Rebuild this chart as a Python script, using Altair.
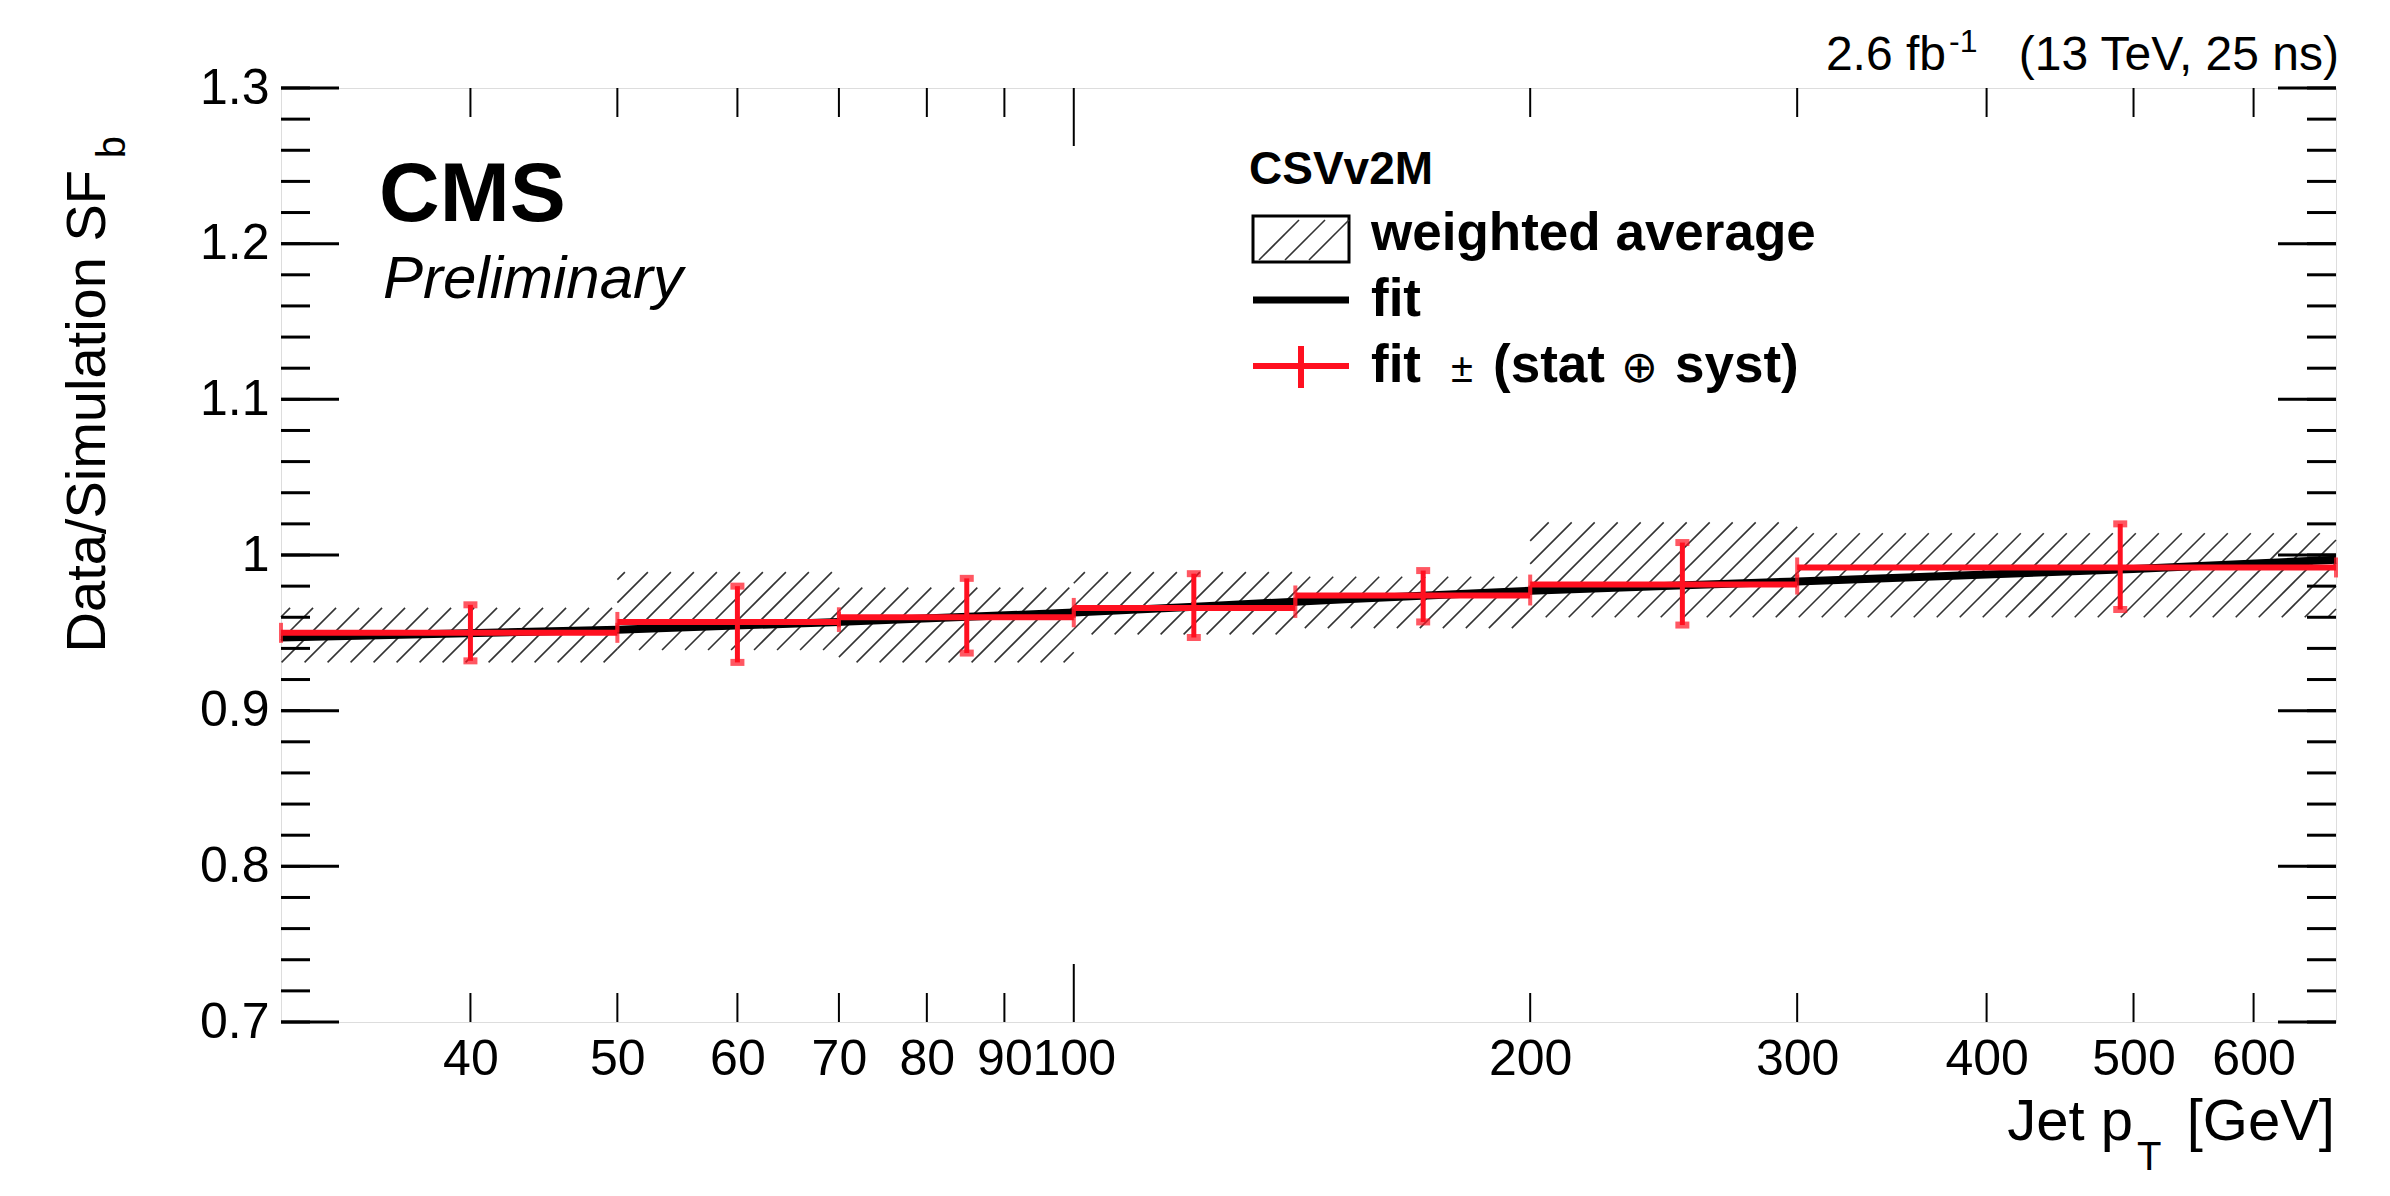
import numpy as np
import pandas as pd
import altair as alt

W, H = 2055, 934
X_MIN, X_MAX = 30, 680
Y_MIN, Y_MAX = 0.7, 1.3
FONT = "Liberation Sans"

# bins and fit values
bin_lo = [30, 50, 70, 100, 140, 200, 300]
bin_hi = [50, 70, 100, 140, 200, 300, 680]
sf_center = [40, 60, 85, 120, 170, 252, 490]
sf_value = [0.950, 0.957, 0.960, 0.966, 0.974, 0.981, 0.992]
sf_up = [0.968, 0.980, 0.985, 0.988, 0.990, 1.008, 1.020]
sf_down = [0.932, 0.931, 0.937, 0.947, 0.957, 0.955, 0.965]

# weighted average bands
wa_lo = [0.931, 0.939, 0.931, 0.949, 0.953, 0.960, 0.960]
wa_hi = [0.966, 0.989, 0.979, 0.989, 0.986, 1.021, 1.014]

# fit curve
fit_x = [30, 50, 70, 100, 140, 200, 300, 500, 680]
fit_y = [0.947, 0.952, 0.957, 0.963, 0.970, 0.977, 0.983, 0.991, 0.997]

x_ticks = [40, 50, 60, 70, 80, 90, 100, 200, 300, 400, 500, 600]
x_long_ticks = [100]
x_short_ticks = [40, 50, 60, 70, 80, 90, 200, 300, 400, 500, 600]
y_major = [0.7, 0.8, 0.9, 1.0, 1.1, 1.2, 1.3]
y_minor = [round(0.7 + 0.02 * i, 2) for i in range(31)]

xs = alt.Scale(type="log", domain=[X_MIN, X_MAX], nice=False, zero=False)
ys = alt.Scale(domain=[Y_MIN, Y_MAX], nice=False, zero=False)
L0, L1 = np.log10(X_MIN), np.log10(X_MAX)


def px(x):
    return W * (np.log10(x) - L0) / (L1 - L0)


def from_px(p):
    return 10 ** (L0 + p / W * (L1 - L0))


def py(y):
    return H * (Y_MAX - y) / (Y_MAX - Y_MIN)


def from_py(p):
    return Y_MAX - p / H * (Y_MAX - Y_MIN)


# hatch lines (45 degrees in screen space) clipped to each band
step = 23
rows = []
for lo, hi, b, t in zip(bin_lo, bin_hi, wa_lo, wa_hi):
    x0, x1, yt, yb = px(lo), px(hi), py(t), py(b)
    c = np.ceil((x0 + yt) / step) * step
    while c <= x1 + yb:
        ya, yb2 = max(yt, c - x1), min(yb, c - x0)
        if yb2 > ya:
            rows.append(dict(x=from_px(c - ya), y=from_py(ya),
                             x2=from_px(c - yb2), y2=from_py(yb2)))
        c += step
hatch = pd.DataFrame(rows)

bins = pd.DataFrame(dict(lo=bin_lo, hi=bin_hi, c=sf_center, v=sf_value,
                         up=sf_up, dn=sf_down))
edges = pd.DataFrame(dict(x=bin_lo + bin_hi, v=sf_value + sf_value))
fit = pd.DataFrame(dict(x=fit_x, y=fit_y))
one = pd.DataFrame({"a": [0]})

hatch_layer = alt.Chart(hatch).mark_rule(color="#333333", strokeWidth=1.6).encode(
    x=alt.X("x:Q", scale=xs), x2="x2:Q", y=alt.Y("y:Q", scale=ys), y2="y2:Q")

base_axes = alt.Chart(fit).mark_point(opacity=0).encode(
    x=alt.X("x:Q", scale=xs, title=None,
            axis=alt.Axis(values=x_ticks, tickSize=0, domain=False, grid=False,
                          labelFont=FONT, labelFontSize=50, labelColor="black",
                          labelPadding=12, labelFlush=False, labelOverlap=False,
                          labelExpr="datum.value")),
    y=alt.Y("y:Q", scale=ys, title=None,
            axis=alt.Axis(values=y_major, tickSize=0, domain=False, grid=False,
                          labelFont=FONT, labelFontSize=50, labelColor="black",
                          labelPadding=12, labelFlush=False,
                          labelExpr="datum.value == 1 ? '1' : format(datum.value, '.1f')")))

fit_line = alt.Chart(fit).mark_line(color="black", strokeWidth=8, interpolate="monotone").encode(
    x=alt.X("x:Q", scale=xs), y=alt.Y("y:Q", scale=ys))

red = "#ff1020"
hseg = alt.Chart(bins).mark_rule(color=red, strokeWidth=6).encode(
    x=alt.X("lo:Q", scale=xs), x2="hi:Q", y=alt.Y("v:Q", scale=ys))
edge_ticks = alt.Chart(edges).mark_tick(color=red, orient="vertical", size=20, thickness=4).encode(
    x=alt.X("x:Q", scale=xs), y=alt.Y("v:Q", scale=ys))
vseg = alt.Chart(bins).mark_rule(color=red, strokeWidth=5).encode(
    x=alt.X("c:Q", scale=xs), y=alt.Y("dn:Q", scale=ys), y2="up:Q")
caps_up = alt.Chart(bins).mark_tick(color=red, orient="horizontal", size=14, thickness=7).encode(
    x=alt.X("c:Q", scale=xs), y=alt.Y("up:Q", scale=ys))
caps_dn = alt.Chart(bins).mark_tick(color=red, orient="horizontal", size=14, thickness=7).encode(
    x=alt.X("c:Q", scale=xs), y=alt.Y("dn:Q", scale=ys))


def yticks(vals, length):
    d = pd.DataFrame({"t": vals})
    left = alt.Chart(d).mark_rule(color="black", strokeWidth=3).encode(
        y=alt.Y("t:Q", scale=ys), x=alt.value(0), x2=alt.value(length))
    right = alt.Chart(d).mark_rule(color="black", strokeWidth=3).encode(
        y=alt.Y("t:Q", scale=ys), x=alt.value(W - length), x2=alt.value(W))
    return left + right


def xticks(vals, length):
    d = pd.DataFrame({"t": vals})
    bot = alt.Chart(d).mark_rule(color="black", strokeWidth=2).encode(
        x=alt.X("t:Q", scale=xs), y=alt.value(H - length), y2=alt.value(H))
    top = alt.Chart(d).mark_rule(color="black", strokeWidth=2).encode(
        x=alt.X("t:Q", scale=xs), y=alt.value(0), y2=alt.value(length))
    return bot + top


def txt(s, x, y, size, weight="normal", style="normal", align="left", angle=0):
    return alt.Chart(one).mark_text(text=s, font=FONT, fontSize=size, fontWeight=weight,
                                    fontStyle=style, align=align, baseline="alphabetic",
                                    angle=angle, color="black").encode(
        x=alt.value(x), y=alt.value(y))


texts = [
    txt("CMS", 98, 133, 84, weight="bold"),
    txt("Preliminary", 102, 210, 60, style="italic"),
    txt("2.6 fb", 1665, -18, 48, align="right"),
    txt("-1", 1668, -36, 32),
    txt("(13 TeV, 25 ns)", 2058, -18, 48, align="right"),
    txt("Data/Simulation SF", -176, 82, 56, align="right", angle=270),
    txt("b", -156, 48, 40, align="right", angle=270),
    txt("Jet p", 1852, 1052, 58, align="right"),
    txt("T", 1856, 1082, 40),
    txt("[GeV]", 2054, 1052, 58, align="right"),
    txt("CSVv2M", 968, 96, 46, weight="bold"),
    txt("weighted average", 1090, 162, 53, weight="bold"),
    txt("fit", 1090, 228, 53, weight="bold"),
    txt("fit", 1090, 294, 53, weight="bold"),
    txt("\u00b1", 1170, 294, 40),
    txt("(stat", 1212, 294, 53, weight="bold"),
    txt("\u2295", 1340, 294, 44),
    txt("syst)", 1394, 294, 53, weight="bold"),
]

legend_box = alt.Chart(one).mark_rect(fill="white", stroke="black", strokeWidth=3).encode(
    x=alt.value(972), x2=alt.value(1068), y=alt.value(128), y2=alt.value(174))
legend_fit = alt.Chart(one).mark_rule(color="black", strokeWidth=7).encode(
    x=alt.value(972), x2=alt.value(1068), y=alt.value(212))
legend_red_h = alt.Chart(one).mark_rule(color=red, strokeWidth=6).encode(
    x=alt.value(972), x2=alt.value(1068), y=alt.value(278))
legend_red_v = alt.Chart(one).mark_rule(color=red, strokeWidth=6).encode(
    x=alt.value(1020), y=alt.value(258), y2=alt.value(300))
legend_lines = [alt.Chart(one).mark_rule(color="#333333", strokeWidth=1.6).encode(
    x=alt.value(a), x2=alt.value(a + 40), y=alt.value(172), y2=alt.value(132))
    for a in [978, 1004, 1028]]

chart = alt.layer(
    base_axes, hatch_layer, fit_line, hseg, edge_ticks, vseg, caps_up, caps_dn,
    yticks(y_minor, 29), yticks(y_major, 58),
    xticks(x_short_ticks, 29), xticks(x_long_ticks, 58),
    legend_box, *legend_lines, legend_fit, legend_red_h, legend_red_v,
    *texts,
).properties(
    width=W, height=H, autosize="none",
    padding={"left": 273, "top": 80, "right": 46, "bottom": 166},
).configure_view(stroke="black", strokeWidth=4).configure(background="white")

chart.save("out.html", embed_options={"renderer": "svg", "actions": False})
